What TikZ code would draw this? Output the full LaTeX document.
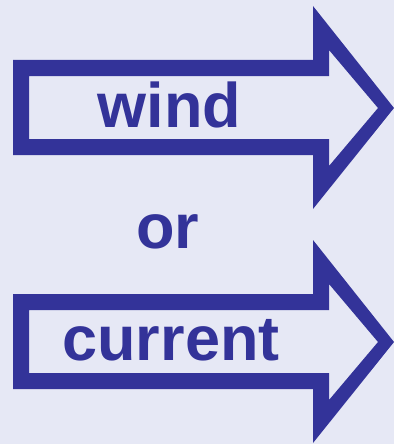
\documentclass[tikz,border=0pt]{standalone}
\usepackage{fontspec}
\setmainfont{Liberation Sans}
\usepackage{tikz}

\definecolor{arrowblue}{HTML}{333399}
\definecolor{paper}{HTML}{E6E8F5}

\begin{document}
\begin{tikzpicture}[x=1pt, y=-1pt,
    outline/.style={fill=arrowblue, even odd rule},
    word/.style={text=arrowblue, font=\fontsize{63}{63}\selectfont\bfseries, anchor=base, inner sep=0pt}]
    % Background
    \fill[paper] (0, 0) rectangle (394, 444);

    % Upper arrow (outline)
    \fill[outline] (13, 60) -- (313, 60) -- (313, 6) -- (394, 108) -- (313, 209) -- (313, 155) -- (13, 155) -- cycle
        (29, 76) -- (329, 76) -- (329, 50) -- (378, 108) -- (329, 166) -- (329, 139) -- (29, 139) -- cycle;

    % Lower arrow, same shape shifted down
    \begin{scope}[yshift=-234pt]
        \fill[outline] (13, 60) -- (313, 60) -- (313, 6) -- (394, 108) -- (313, 209) -- (313, 155) -- (13, 155) -- cycle
            (29, 76) -- (329, 76) -- (329, 50) -- (378, 108) -- (329, 166) -- (329, 139) -- (29, 139) -- cycle;
    \end{scope}

    % Labels
    \node[word] (wind) at (169.5, 127) {wind};
    \node[word] (or) at (168, 248) {or};
    \node[word] (current) at (171, 360) {current};
\end{tikzpicture}
\end{document}
